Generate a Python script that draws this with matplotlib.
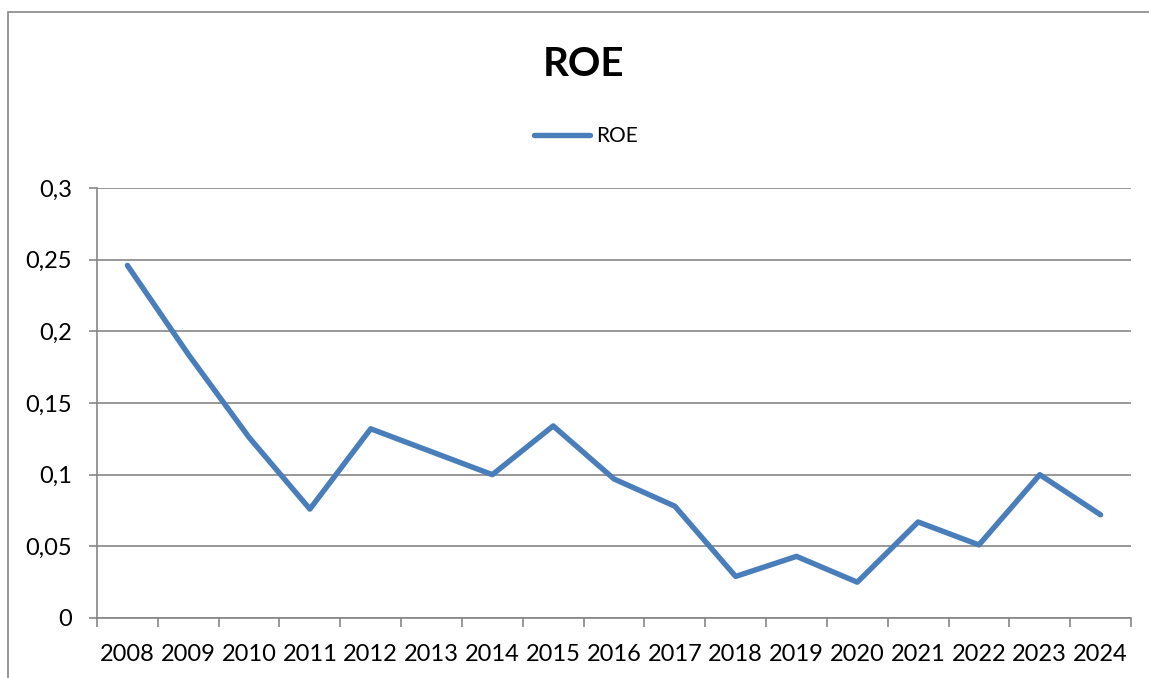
import matplotlib
matplotlib.use('Agg')
import matplotlib.pyplot as plt
from matplotlib.patches import Rectangle
from matplotlib.ticker import FixedLocator, FuncFormatter

plt.rcParams['font.family'] = ['Lato', 'DejaVu Sans']

# data
years = ['2008', '2009', '2010', '2011', '2012', '2013', '2014', '2015', '2016',
         '2017', '2018', '2019', '2020', '2021', '2022', '2023', '2024']
roe = [0.246, 0.184, 0.126, 0.076, 0.132, 0.116, 0.100, 0.134, 0.097,
       0.078, 0.029, 0.043, 0.025, 0.067, 0.051, 0.100, 0.072]
yticks = [0, 0.05, 0.1, 0.15, 0.2, 0.25, 0.3]

W, H = 1149, 678
fig = plt.figure(figsize=(W / 100, H / 100), dpi=100)
fig.patch.set_facecolor('white')

# chart border (only left and top visible in the crop)
fig.patches.append(Rectangle((8 / W, -0.1), 1.2, 1 - 12 / H + 0.1,
                             transform=fig.transFigure, fill=False,
                             edgecolor='#868686', linewidth=1.2))

ax = fig.add_axes([97 / W, 1 - 618 / H, (1131 - 97) / W, (618 - 188) / H])
grid_c = '#868686'

x = list(range(len(years)))
ax.plot(x, roe, color='#4a7ebb', linewidth=3.9, solid_capstyle='round',
        solid_joinstyle='round', label='ROE', zorder=3)

ax.set_xlim(-0.5, len(years) - 0.5)
ax.set_ylim(0, 0.3)
ax.set_yticks(yticks)
ax.yaxis.set_major_formatter(FuncFormatter(lambda v, p: ('%g' % v).replace('.', ',')))
ax.grid(axis='y', color=grid_c, linewidth=1.2)
ax.set_axisbelow(True)

ax.set_xticks(x)
ax.set_xticklabels(years)
ax.xaxis.set_minor_locator(FixedLocator([i - 0.5 for i in range(len(years) + 1)]))
ax.tick_params(axis='x', which='major', length=0, pad=19, labelsize=17)
ax.tick_params(axis='x', which='minor', length=6.5, width=1.2, color=grid_c)
ax.tick_params(axis='y', length=6, width=1.2, color=grid_c, pad=12, labelsize=17)

for s in ['top', 'right']:
    ax.spines[s].set_visible(False)
for s in ['left', 'bottom']:
    ax.spines[s].set_color(grid_c)
    ax.spines[s].set_linewidth(1.2)

fig.text(584 / W, 1 - 65 / H, 'ROE', ha='center', va='center',
         fontsize=29, fontweight='bold')

fig.legend(loc='center', bbox_to_anchor=(586 / W, 1 - 136 / H), frameon=False,
           fontsize=15, handlelength=2.65, handletextpad=0.3)

fig.savefig('out.png', dpi=100, facecolor='white')
